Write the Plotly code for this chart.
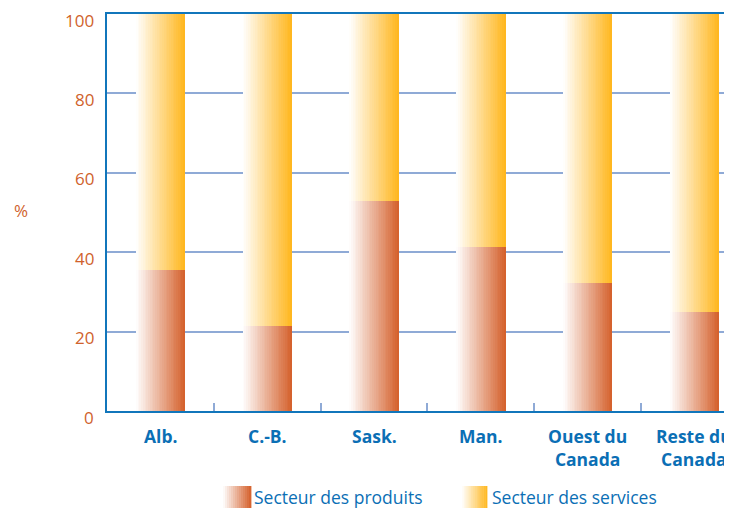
import plotly.graph_objects as go

categories = ["Alb.", "C.-B.", "Sask.", "Man.", "Ouest du Canada", "Reste du Canada"]
x_labels = ["Alb.", "C.-B.", "Sask.", "Man.", "Ouest du<br>Canada", "Reste du<br>Canada"]
produits = [35.4, 21.5, 52.8, 41.2, 32.3, 25.0]
services = [100 - v for v in produits]
y_ticks = [0, 20, 40, 60, 80, 100]

PROD_RGB = (212, 95, 42)
SERV_RGB = (255, 182, 28)
BLUE = "#0b6fb5"
ORANGE = "#d0622c"
GRID = "#8faad6"

N = 28
W = 0.46

def mix(rgb, t):
    return "rgb(%d,%d,%d)" % tuple(round(255 + (c - 255) * t) for c in rgb)

fig = go.Figure()
for i in range(N):
    t = (i + 0.5) / N
    off = -W / 2 + i * W / N
    fig.add_trace(go.Bar(
        x=categories, y=produits, base=[0] * len(produits),
        offset=off, width=W / N * 1.15,
        marker=dict(color=mix(PROD_RGB, t), line=dict(width=0)),
        showlegend=False, hoverinfo="skip"))
    fig.add_trace(go.Bar(
        x=categories, y=services, base=produits,
        offset=off, width=W / N * 1.15,
        marker=dict(color=mix(SERV_RGB, t), line=dict(width=0)),
        showlegend=False, hoverinfo="skip"))

# page body has an 8px margin; plot area in window pixels: x 107..732, y 14..411
PAGE = 8
L, R, T, B = 107, 732, 14, 411
plot_w = R - L
plot_h = B - T
def px_x(x):
    return (x - L) / plot_w
def px_y(y):
    return (B - y) / plot_h

shapes = []
for (x0, x1, rgb) in [(223, 251, PROD_RGB), (462, 487, SERV_RGB)]:
    M = 14
    for i in range(M):
        t = (i + 0.5) / M
        a = x0 + (x1 - x0) * i / M
        b = x0 + (x1 - x0) * (i + 1) / M + 0.4
        shapes.append(dict(type="rect", xref="paper", yref="paper",
                           x0=px_x(a), x1=px_x(b), y0=px_y(512), y1=px_y(486),
                           fillcolor=mix(rgb, t), line=dict(width=0), layer="above"))

annotations = [
    dict(text="%", xref="paper", yref="paper", x=px_x(12), y=px_y(210),
         xanchor="left", yanchor="middle",
         showarrow=False, font=dict(color=ORANGE, size=17, family="Open Sans")),
    dict(text="Secteur des produits", xref="paper", yref="paper", x=px_x(252), y=px_y(497),
         xanchor="left", yanchor="middle", showarrow=False,
         font=dict(color=BLUE, size=17.5, family="Open Sans")),
    dict(text="Secteur des services", xref="paper", yref="paper", x=px_x(490), y=px_y(497),
         xanchor="left", yanchor="middle", showarrow=False,
         font=dict(color=BLUE, size=17.5, family="Open Sans")),
]
for v in y_ticks:
    annotations.append(dict(text=str(v), xref="paper", yref="y", x=px_x(96), y=v,
                            xanchor="right", yanchor="middle", yshift=-6, showarrow=False,
                            font=dict(color=ORANGE, size=17, family="Open Sans")))
for cat, lab in zip(categories, x_labels):
    annotations.append(dict(text="<b>%s</b>" % lab, xref="x", yref="paper", x=cat,
                            y=px_y(422), xanchor="center", yanchor="top",
                            showarrow=False, align="center",
                            font=dict(color=BLUE, size=17.5, family="Open Sans")))

fig.update_layout(
    width=732 - PAGE, height=508 - PAGE,
    margin=dict(l=L - PAGE, r=0, t=T - PAGE, b=508 - B),
    barmode="overlay", bargap=0,
    plot_bgcolor="white", paper_bgcolor="white",
    shapes=shapes, annotations=annotations,
    hovermode=False,
    xaxis=dict(type="category", categoryorder="array", categoryarray=categories,
               range=[-0.5, 5.352], showline=True, mirror=True, linecolor="#1176bb", linewidth=2,
               showgrid=False, tickson="boundaries", ticks="inside", ticklen=8,
               tickwidth=2, tickcolor=GRID, showticklabels=False),
    yaxis=dict(range=[0, 100], tickvals=y_ticks, showline=True, linecolor="#1176bb",
               linewidth=2, showgrid=True, gridcolor=GRID, gridwidth=2, zeroline=False,
               ticks="", showticklabels=False),
)

fig.write_html("out.html")
